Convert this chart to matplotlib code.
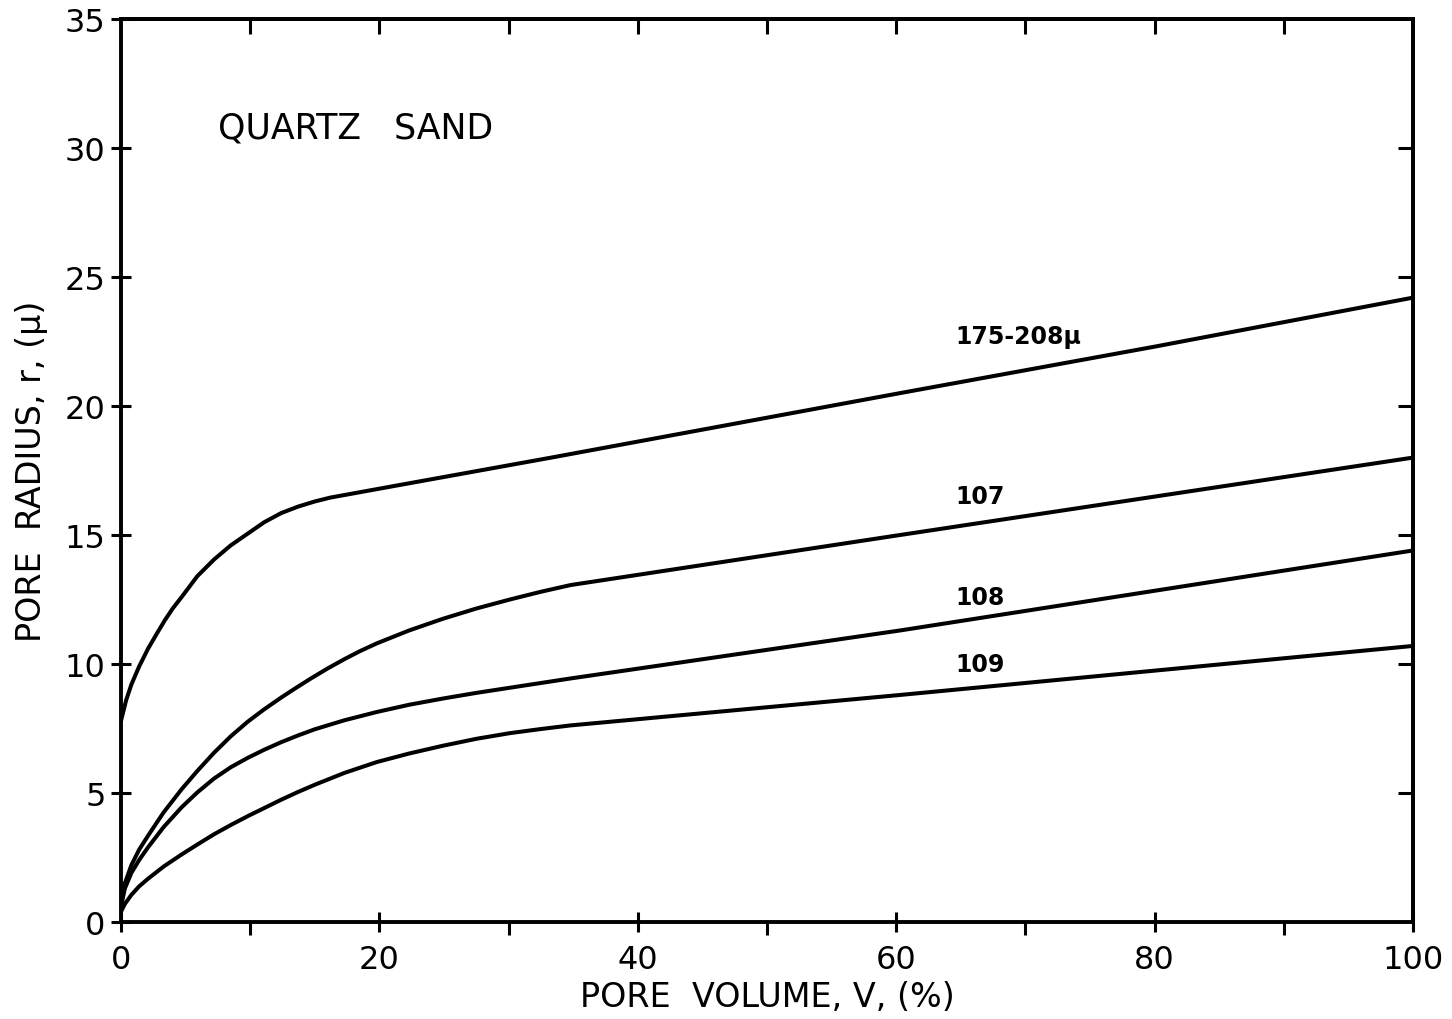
import matplotlib
matplotlib.use("Agg")
import matplotlib.pyplot as plt
from matplotlib.ticker import FixedLocator, NullFormatter

# Pore volume V (%) and pore radius r (micron) for each sand fraction
v_175_208 = [0, 0.4, 0.8, 1.4, 2.1, 2.8, 3.4, 4.0, 4.7, 5.9, 7.2, 8.5, 9.8, 11.1, 12.4,
             13.7, 15.0, 16.2, 17.3, 21.7, 33.3, 60.3, 80, 100]
r_175_208 = [7.8, 8.6, 9.2, 9.9, 10.6, 11.2, 11.7, 12.15, 12.6, 13.4, 14.05, 14.6, 15.05, 15.5, 15.85,
             16.1, 16.3, 16.45, 16.55, 16.95, 18.0, 20.5, 22.3, 24.2]

v_107 = [0, 0.3, 0.8, 1.4, 2.1, 3.3, 4.7, 5.9, 7.2, 8.5, 9.8, 11.1, 12.4, 13.5, 14.7,
         16.0, 17.3, 18.5, 19.8, 22.3, 24.9, 27.5, 30.1, 32.5, 34.8, 60.3, 100]
r_107 = [0.7, 1.5, 2.2, 2.8, 3.35, 4.25, 5.15, 5.85, 6.56, 7.2, 7.76, 8.25, 8.7, 9.06, 9.44,
         9.83, 10.19, 10.5, 10.8, 11.3, 11.75, 12.15, 12.5, 12.8, 13.06, 15.0, 18.0]

v_108 = [0, 0.3, 0.8, 1.4, 2.1, 3.3, 4.7, 5.9, 7.2, 8.5, 9.8, 11.1, 12.4, 13.7, 15.0,
         17.3, 19.8, 22.3, 24.9, 27.5, 30.1, 34.8, 60.3, 100]
r_108 = [0.6, 1.3, 1.9, 2.4, 2.9, 3.68, 4.45, 5.02, 5.56, 6.0, 6.36, 6.68, 6.97, 7.23, 7.47,
         7.82, 8.14, 8.42, 8.66, 8.88, 9.08, 9.44, 11.3, 14.4]

v_109 = [0, 0.3, 0.8, 1.4, 2.1, 3.3, 4.7, 5.9, 7.2, 8.5, 9.8, 11.1, 12.4, 13.7, 15.0,
         17.3, 19.8, 22.3, 24.9, 27.5, 30.1, 32.5, 34.8, 60.3, 100]
r_109 = [0.4, 0.7, 1.05, 1.38, 1.68, 2.15, 2.62, 3.0, 3.4, 3.76, 4.1, 4.42, 4.74, 5.04, 5.32,
         5.78, 6.2, 6.53, 6.83, 7.1, 7.32, 7.48, 7.62, 8.8, 10.7]

curve_labels = ["175-208μ", "107", "108", "109"]
x_ticks = [0, 20, 40, 60, 80, 100]
y_ticks = [0, 5, 10, 15, 20, 25, 30, 35]

plt.rcParams["font.family"] = ["DejaVu Sans"]

fig = plt.figure(figsize=(14.52, 10.20), dpi=100)
ax = fig.add_axes([121 / 1452, 97 / 1020, (1413 - 121) / 1452, (923 - 20) / 1020])

line_kw = dict(color="black", lw=2.9, solid_capstyle="round", solid_joinstyle="round")
for v, r in [(v_175_208, r_175_208), (v_107, r_107), (v_108, r_108), (v_109, r_109)]:
    ax.plot(v, r, **line_kw)

ax.set_xlim(0, 100)
ax.set_ylim(0, 35)

for side in ax.spines.values():
    side.set_linewidth(2.8)

# Bottom axis: labelled major ticks crossing the axis, short outward minor ticks
ax.xaxis.set_major_locator(FixedLocator(x_ticks))
ax.xaxis.set_minor_locator(FixedLocator([10, 30, 50, 70, 90]))
ax.tick_params(axis="x", which="major", direction="inout", length=15, width=2.2,
               labelsize=23, pad=8, top=False)
ax.tick_params(axis="x", which="minor", direction="out", length=9, width=2.2, top=False)

# Left axis: ticks crossing the axis
ax.yaxis.set_major_locator(FixedLocator(y_ticks))
ax.tick_params(axis="y", which="major", direction="inout", length=14, width=2.2,
               labelsize=23, pad=4, right=False)

# Top and right axes: inward ticks only
top = ax.secondary_xaxis("top")
top.xaxis.set_major_locator(FixedLocator(list(range(10, 100, 10))))
top.xaxis.set_major_formatter(NullFormatter())
top.tick_params(direction="in", length=11, width=2.2)
top.spines["top"].set_linewidth(2.8)

right = ax.secondary_yaxis("right")
right.yaxis.set_major_locator(FixedLocator(y_ticks[1:-1]))
right.yaxis.set_major_formatter(NullFormatter())
right.tick_params(direction="in", length=11, width=2.2)
right.spines["right"].set_linewidth(2.8)

ax.set_xlabel("PORE  VOLUME, V, (%)", fontsize=24, labelpad=4)
ax.set_ylabel("PORE  RADIUS, r, (μ)", fontsize=24, labelpad=12)

ax.text(7.5, 30.8, "QUARTZ   SAND", fontsize=25, ha="left", va="center")

for text, (lx, ly) in zip(curve_labels, [(64.6, 22.7), (64.6, 16.5), (64.6, 12.6), (64.6, 10.0)]):
    ax.text(lx, ly, text, fontsize=17, fontweight="bold", ha="left", va="center")

fig.savefig("out.png", dpi=100, facecolor="white")
